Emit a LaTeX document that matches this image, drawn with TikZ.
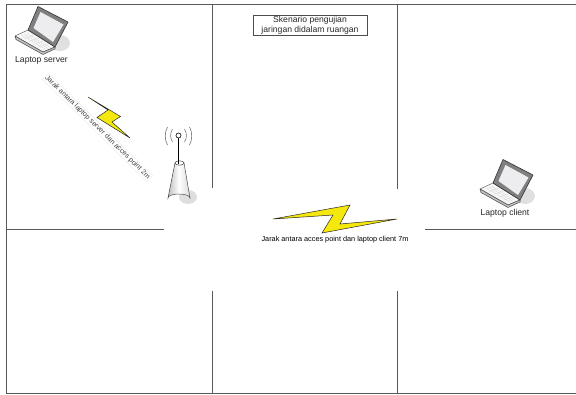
\documentclass[tikz,border=0pt]{standalone}
\usepackage{fontspec}
\setmainfont{Liberation Sans}
\usetikzlibrary{calc}
\tikzset{
 wall/.style={draw=black!65,line width=0.9pt},
 bolt/.style={draw=black!85,fill=yellow!95!black,line width=0.5pt,line join=miter},
 lbl/.style={inner sep=0pt,text=black!85,font=\fontsize{8.6}{10}\selectfont},
}
\newcommand{\lap}[2]{%
\begin{scope}[shift={(#1,#2)}]
 \fill[black!12] (60,43) ellipse (10 and 8);
 \draw[black!60,fill=black!3,line width=.5pt,line join=round] (15,36)--(28,30)--(55,47)--(43,52)--cycle;
 \draw[black!70,fill=black!25,line width=.5pt,line join=round] (15,36)--(43,52)--(55,47)--(55,49)--(43,54.5)--(16,39.5)--cycle;
 \foreach \t in {.2,.4,.6,.8}{\draw[black!16,line width=.3pt] ($(19,36)!\t!(43,50)$)--($(29,32)!\t!(53,47)$);}
 \foreach \t in {.25,.5,.75}{\draw[black!16,line width=.3pt] ($(19,36)!\t!(29,32)$)--($(43,50)!\t!(53,47)$);}
 \draw[black!80,fill=black!50,line width=.6pt,line join=round] (38,6.5)--(68,22)--(55,47)--(28,30)--cycle;
 \fill[blue!8!black!7] (40.5,12)--(63.5,24.5)--(53,42)--(33.5,28)--cycle;
\end{scope}}
\begin{document}
\begin{tikzpicture}[x=1pt,y=-1pt]
\useasboundingbox (0,0) rectangle (576,394);
\coordinate (tl) at (6,4.5); \coordinate (tr) at (576,4.5);
\coordinate (bl) at (6,393); \coordinate (br) at (576,393);
\draw[wall] (tr)--(tl)--(bl)--(br);
\coordinate (a1) at (212,4.5); \coordinate (a2) at (212,188);
\coordinate (a3) at (212,291); \coordinate (a4) at (212,393);
\draw[wall] (a1)--(a2) (a3)--(a4);
\coordinate (b1) at (397.5,4.5); \coordinate (b2) at (397.5,189);
\coordinate (b3) at (397.5,291); \coordinate (b4) at (397.5,393);
\draw[wall] (b1)--(b2) (b3)--(b4);
\coordinate (c1) at (6,229.5); \coordinate (c2) at (164,229.5);
\coordinate (c3) at (425,229.5); \coordinate (c4) at (576,229.5);
\draw[wall] (c1)--(c2) (c3)--(c4);
\lap{0}{0}
\lap{465}{153}
\node[lbl] (server) at (41.5,60) {Laptop server};
\node[lbl] (client) at (505,213) {Laptop client};
\node[draw=black!70,line width=.5pt,minimum width=114pt,minimum height=20pt,inner sep=0pt,align=center,font=\fontsize{8.6}{10}\selectfont,text=black!85] (title) at (310,25) {Skenario pengujian\\jaringan didalam ruangan};
\node[draw=black!10,line width=.3pt,inner sep=1pt,rotate=-44.5,font=\fontsize{7}{8}\selectfont,text=black!75] (dist1) at (97.5,127.5) {Jarak antara laptop server dan acces point 2m};
\node[inner sep=0pt,font=\fontsize{7.3}{8}\selectfont,text=black] (dist2) at (335,239.5) {Jarak antara acces point dan laptop client 7m};
\draw[bolt] (88,97)--(108,110)--(97,117.5)--(130,138)--(112,122)--(120.5,116.5)--cycle;
\draw[bolt] (273,219)--(350,205)--(340,224)--(397,219)--(322,233)--(333,215)--cycle;
% access point
\fill[black!13] (188,197) ellipse (9 and 7);
\path[draw=black!70,line width=.5pt,left color=black!25,right color=black!15,middle color=white] (175,163)--(168,198) arc[start angle=180,end angle=360,x radius=11,y radius=4]--(184,163)--cycle;
\draw[black!75,fill=white,line width=.5pt] (179.5,163) ellipse (4.5 and 2.2);
\draw[black,line width=.6pt] (178.5,164)--(178.5,138);
\draw[black!85,fill=white,line width=.7pt] (178.5,135.5) circle (2.5);
\foreach \s in {1,-1}{
 \draw[black!55,line width=.6pt] ({178.5+\s*6},129) .. controls ({178.5+\s*8.5},133) and ({178.5+\s*8.5},138) .. ({178.5+\s*6},142);
 \draw[black!55,line width=.6pt] ({178.5+\s*11},127) .. controls ({178.5+\s*14},132) and ({178.5+\s*14},140) .. ({178.5+\s*11},145);
}
\end{tikzpicture}
\end{document}
